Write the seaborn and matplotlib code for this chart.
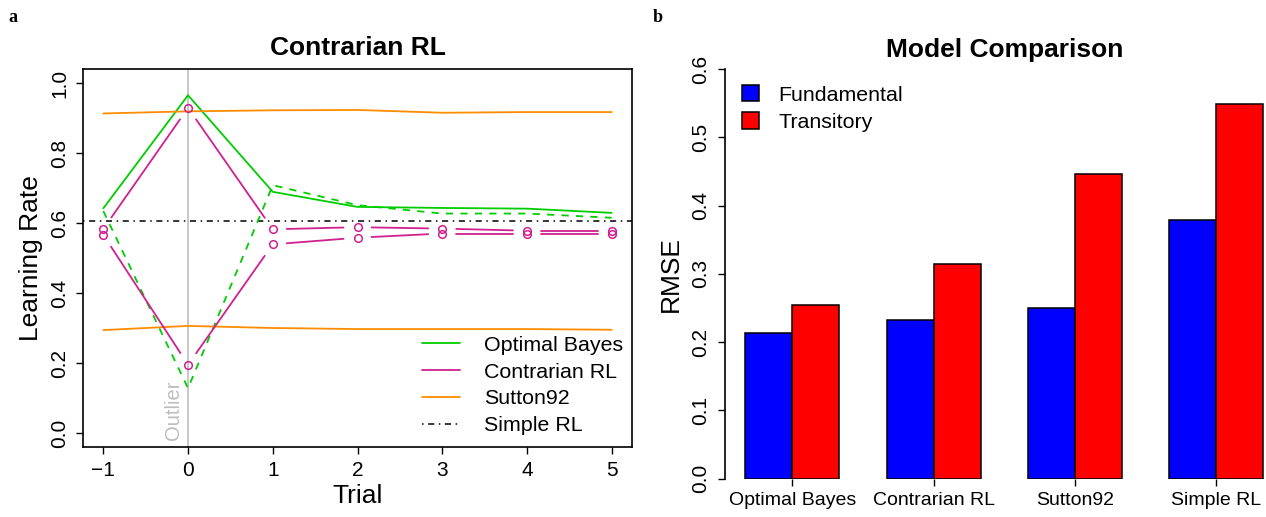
import numpy as np
import pandas as pd
import matplotlib
matplotlib.use("Agg")
import matplotlib.pyplot as plt
from matplotlib.lines import Line2D
from matplotlib.patches import Patch
import seaborn as sns

# ---- data: learning rate around an outlier trial ----
trials = [-1, 0, 1, 2, 3, 4, 5]
bayes_up = [0.642, 0.965, 0.689, 0.646, 0.643, 0.641, 0.629]
bayes_down = [0.634, 0.128, 0.708, 0.651, 0.627, 0.627, 0.615]
contrarian_up = [0.583, 0.929, 0.582, 0.588, 0.584, 0.578, 0.578]
contrarian_down = [0.566, 0.195, 0.539, 0.558, 0.570, 0.570, 0.570]
sutton_up = [0.913, 0.919, 0.922, 0.923, 0.915, 0.917, 0.917]
sutton_down = [0.294, 0.306, 0.300, 0.297, 0.297, 0.297, 0.295]
simple_rl = 0.606

# ---- data: model comparison ----
models = ["Optimal Bayes", "Contrarian RL", "Sutton92", "Simple RL"]
kinds = ["Fundamental", "Transitory"]
rmse_fundamental = [0.214, 0.233, 0.250, 0.379]
rmse_transitory = [0.254, 0.314, 0.446, 0.549]

GREEN = "#00CD00"
MAGENTA = "#D02090"
ORANGE = "#FF8C00"
GREY = "#BEBEBE"

sns.set_theme(style="white")
plt.rcParams["font.family"] = ["Liberation Sans", "DejaVu Sans"]
plt.rcParams.update({
    "text.color": "black",
    "axes.labelcolor": "black",
    "xtick.color": "black",
    "ytick.color": "black",
    "axes.edgecolor": "black",
})

W, H = 1266, 517
fig = plt.figure(figsize=(W / 100, H / 100), dpi=100)

TICK_FS = 15
LAB_FS = 19
TITLE_FS = 19

# ================= panel a =================
ax1 = fig.add_axes([83 / W, 1 - 447 / H, 549 / W, 378 / H])
ax1.set_xlim(-1.24, 5.24)
ax1.set_ylim(-0.04, 1.04)

ax1.axvline(0, color=GREY, lw=1.2, zorder=1)
ax1.text(-0.17, -0.02, "Outlier", rotation=90, color=GREY, fontsize=14.5,
         ha="center", va="bottom", zorder=1)

ax1.axhline(simple_rl, color="black", lw=1.1, linestyle=(0, (1, 3, 4, 3)), zorder=2)

sns.lineplot(x=trials, y=bayes_up, color=GREEN, lw=1.3, ax=ax1, zorder=3)
sns.lineplot(x=trials, y=bayes_down, color=GREEN, lw=1.3,
             linestyle=(0, (4, 4)), ax=ax1, zorder=3)
sns.lineplot(x=trials, y=sutton_up, color=ORANGE, lw=1.3, ax=ax1, zorder=3)
sns.lineplot(x=trials, y=sutton_down, color=ORANGE, lw=1.3, ax=ax1, zorder=3)

# contrarian series: open circles joined by segments that stop short of each point
GAP_PX = 14
for series in (contrarian_up, contrarian_down):
    ax1.plot(trials, series, linestyle="none", marker="o", ms=5.5, mfc="none",
             mec=MAGENTA, mew=1.1, zorder=4)
    pts = ax1.transData.transform(np.column_stack([trials, series]))
    for p0, p1 in zip(pts[:-1], pts[1:]):
        d = p1 - p0
        length = np.hypot(*d)
        if length <= 2 * GAP_PX:
            continue
        u = d / length
        seg = ax1.transData.inverted().transform(
            np.vstack([p0 + u * GAP_PX, p1 - u * GAP_PX]))
        ax1.plot(seg[:, 0], seg[:, 1], color=MAGENTA, lw=1.3, zorder=4)

ax1.set_xticks(trials)
ax1.set_xticklabels(["\u22121", "0", "1", "2", "3", "4", "5"])
ax1.set_yticks([0.0, 0.2, 0.4, 0.6, 0.8, 1.0])
ax1.set_yticklabels(["0.0", "0.2", "0.4", "0.6", "0.8", "1.0"],
                    rotation=90, va="center")
ax1.tick_params(axis="both", direction="out", length=5, width=1,
                labelsize=TICK_FS, color="black", pad=5,
                bottom=True, left=True)
for s in ax1.spines.values():
    s.set_color("black")
    s.set_linewidth(1.2)
ax1.set_xlabel("Trial", fontsize=LAB_FS, labelpad=3)
ax1.set_ylabel("Learning Rate", fontsize=LAB_FS, labelpad=5)
ax1.set_title("Contrarian RL", fontsize=TITLE_FS, fontweight="bold", pad=10)

leg_handles = [
    Line2D([], [], color=GREEN, lw=1.3),
    Line2D([], [], color=MAGENTA, lw=1.3),
    Line2D([], [], color=ORANGE, lw=1.3),
    Line2D([], [], color="black", lw=1.1, linestyle=(0, (1, 3, 4, 3))),
]
ax1.legend(leg_handles, ["Optimal Bayes", "Contrarian RL", "Sutton92", "Simple RL"],
           loc="lower right", bbox_to_anchor=(623 / W, 1 - 435 / H),
           bbox_transform=fig.transFigure, frameon=False, fontsize=15.4,
           handlelength=1.8, handletextpad=1.1, labelspacing=0.36,
           borderpad=0, borderaxespad=0)

# ================= panel b =================
ax2 = fig.add_axes([724.5 / W, 1 - 478.5 / H, (1284 - 724.5) / W, (478.5 - 69.3) / H])
bars = pd.DataFrame({
    "model": models * 2,
    "kind": [kinds[0]] * 4 + [kinds[1]] * 4,
    "rmse": rmse_fundamental + rmse_transitory,
})
sns.barplot(data=bars, x="model", y="rmse", hue="kind", order=models,
            hue_order=kinds, palette=["#0000FF", "#FF0000"], width=2 / 3,
            gap=0, edgecolor="black", linewidth=1.1, saturation=1,
            legend=False, ax=ax2)
ax2.set_xlim(-0.48, 3.48)
ax2.set_ylim(0, 0.6)
for name in ("top", "right", "bottom"):
    ax2.spines[name].set_visible(False)
ax2.spines["left"].set_color("black")
ax2.spines["left"].set_linewidth(1.2)
ax2.spines["left"].set_bounds(0, 0.6)
ax2.set_yticks([0.0, 0.1, 0.2, 0.3, 0.4, 0.5, 0.6])
ax2.set_yticklabels(["0.0", "0.1", "0.2", "0.3", "0.4", "0.5", "0.6"],
                    rotation=90, va="center")
ax2.set_xticks(range(len(models)))
ax2.set_xticklabels(models)
ax2.tick_params(axis="y", direction="out", length=5, width=1,
                labelsize=TICK_FS, color="black", pad=5, left=True)
ax2.tick_params(axis="x", direction="out", length=5, width=1,
                labelsize=14, color="black", pad=5, bottom=True)
ax2.set_xlabel("")
ax2.set_ylabel("RMSE", fontsize=LAB_FS, labelpad=6)
ax2.set_title("Model Comparison", fontsize=TITLE_FS, fontweight="bold", pad=9)

bar_handles = [Patch(facecolor="#0000FF", edgecolor="black", lw=1.1),
               Patch(facecolor="#FF0000", edgecolor="black", lw=1.1)]
ax2.legend(bar_handles, kinds, loc="upper left",
           bbox_to_anchor=(742 / W, 1 - 85 / H), bbox_transform=fig.transFigure,
           frameon=False, fontsize=15.4, handlelength=0.8, handleheight=0.8,
           handletextpad=0.9, labelspacing=0.36, borderpad=0, borderaxespad=0)

# panel letters
fig.text(8 / W, 1 - 18 / H, "a", fontsize=13, fontweight="bold",
         family="Liberation Serif", va="center", ha="left")
fig.text(653 / W, 1 - 18 / H, "b", fontsize=13, fontweight="bold",
         family="Liberation Serif", va="center", ha="left")

fig.savefig("out.png", dpi=100)
